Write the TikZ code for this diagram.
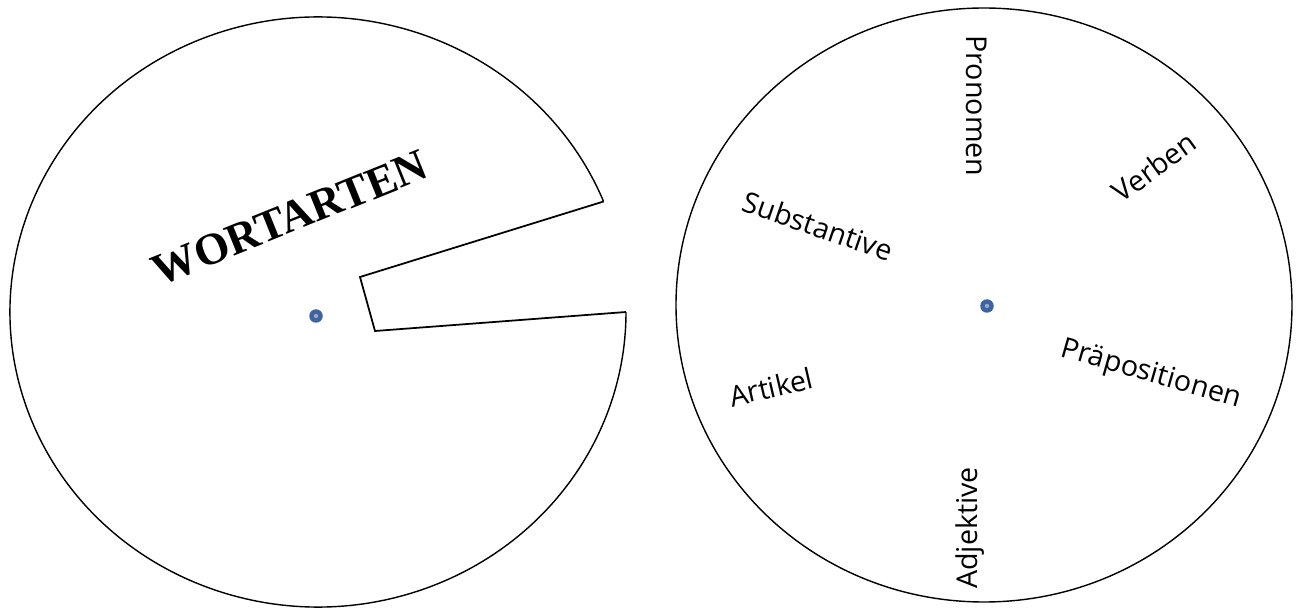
\documentclass[tikz,border=0pt]{standalone}
\usepackage{fontspec}
\setmainfont{Open Sans}
\newfontfamily\titlefont{Liberation Serif}
\usepackage{xcolor}
\usetikzlibrary{positioning}
\definecolor{pinblue}{HTML}{3D64A0}

\begin{document}
\begin{tikzpicture}[
  x=0.2mm, y=0.2mm,
  wheel/.style={draw, line width=0.8pt},
  cut/.style={draw, line width=1pt, line join=miter},
  pin/.style={circle, fill=pinblue, inner sep=0pt, minimum size=2.7mm},
  word/.style={font=\fontsize{16.3}{19}\selectfont, inner sep=0pt},
  title/.style={font=\titlefont\bfseries\fontsize{25.5}{30}\selectfont, inner sep=0pt}
]
\useasboundingbox (0,0) rectangle (1300,608);

% top disc with the window
\coordinate (lc) at (318,296);
\coordinate (slotB) at (360,331);
\coordinate (slotC) at (375,277);
\draw[wheel] (lc) ++(22:308 and 295) coordinate (slotA)
  arc[start angle=22, end angle=360, x radius=308, y radius=295] coordinate (slotD);
\draw[cut] (slotA) -- (slotB) -- (slotC) -- (slotD);
\node[title, rotate=22] (title) at (290,390) {WORTARTEN};
\node[pin] (pinL) at (316,292) {};
\fill[pinblue!55!white] (pinL) circle[radius=2.2];

% bottom disc
\draw[wheel] (984,303) ellipse[x radius=308, y radius=297];
\node[pin] (pinR) at (987,302) {};
\fill[pinblue!55!white] (pinR) circle[radius=2.2];
\node[word, rotate=-90] (pronomen) at (977,502) {Pronomen};
\node[word, rotate=36] (verben) at (1154,441) {Verben};
\node[word, rotate=-19] (substantive) at (818,382) {Substantive};
\node[word, rotate=13] (artikel) at (771,221) {Artikel};
\node[word, rotate=-16] (praepositionen) at (1151,233) {Präpositionen};
\node[word, rotate=90] (adjektive) at (970,80) {Adjektive};
\end{tikzpicture}
\end{document}
